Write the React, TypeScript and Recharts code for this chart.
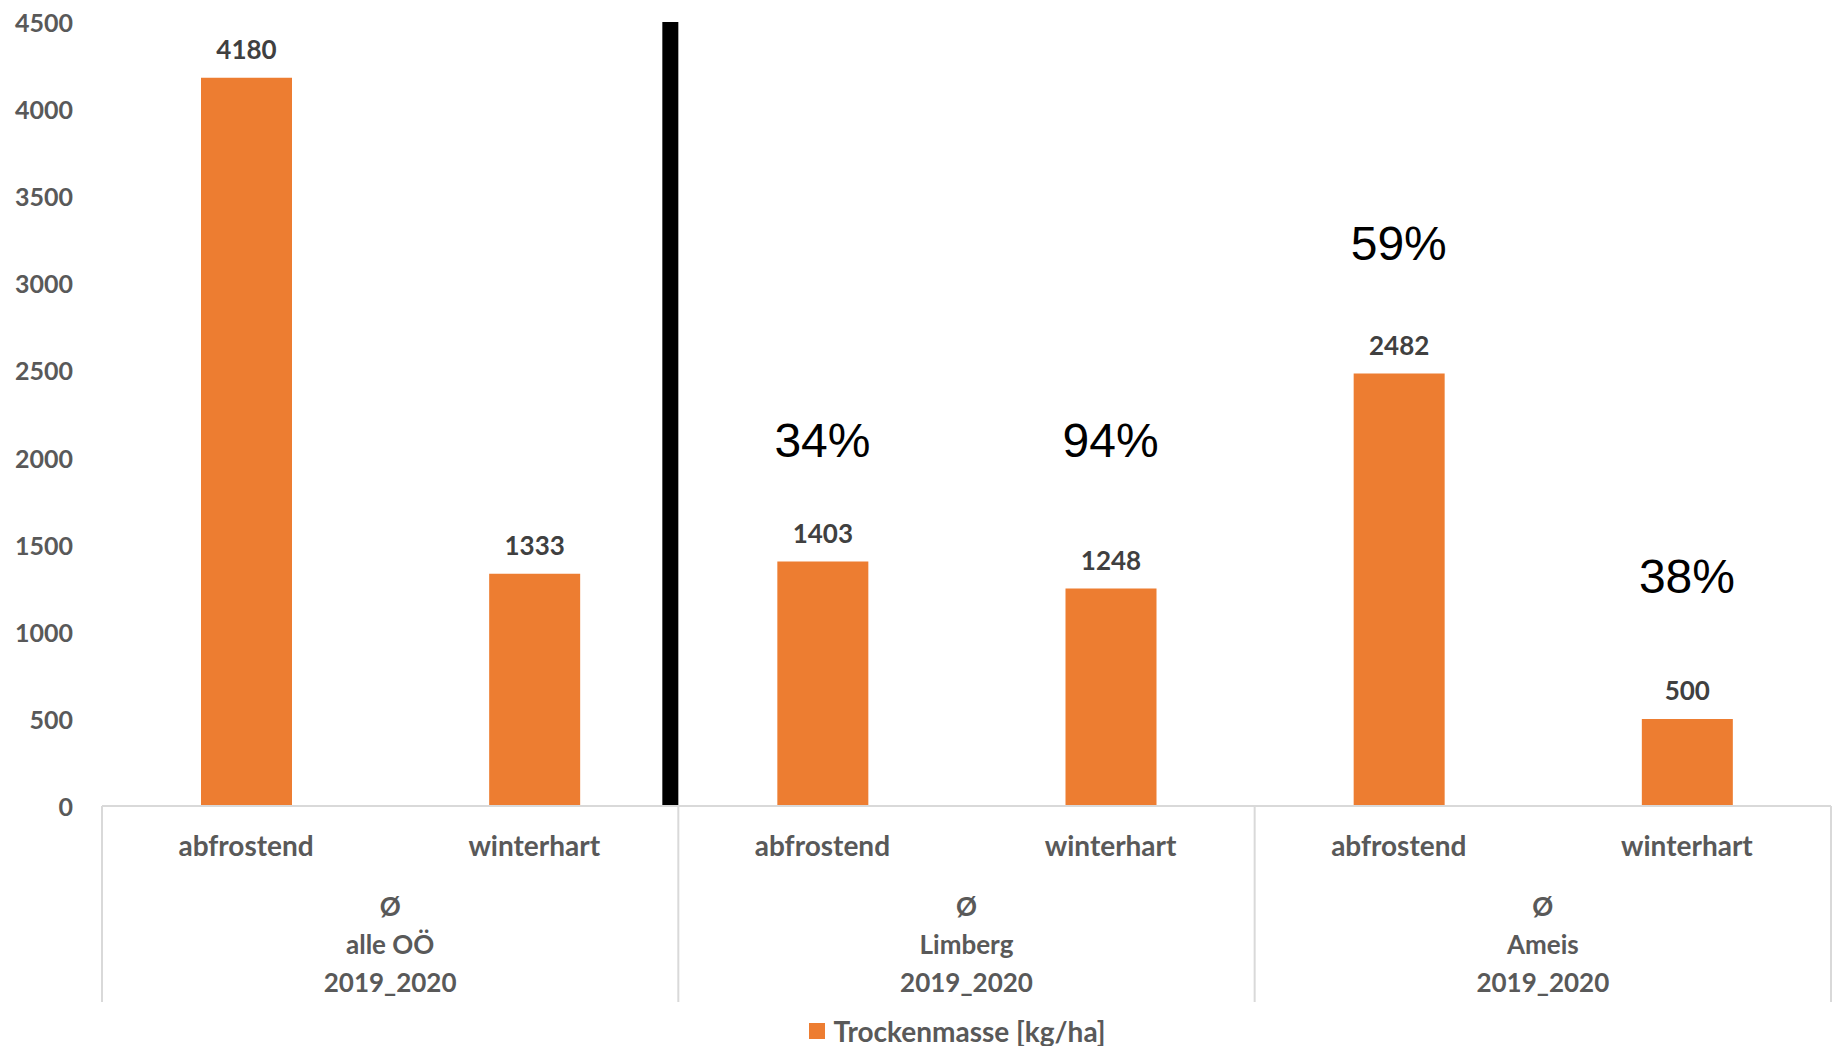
import { ComposedChart, Bar, Line, XAxis, YAxis, LabelList, ReferenceLine, Legend } from 'recharts';

const groups = ['alle OÖ', 'Limberg', 'Ameis'];
const varieties = ['abfrostend', 'winterhart'];
const trockenmasse = [4180, 1333, 1403, 1248, 2482, 500];
const percentText = ['', '', '34%', '94%', '59%', '38%'];
// height (kg/ha scale) where the percentage notes sit
const percentAt = [null, null, 2100, 2100, 3230, 1320];
const yTicks = [0, 500, 1000, 1500, 2000, 2500, 3000, 3500, 4000, 4500];
const groupPrefix = 'Ø';
const season = '2019_2020';

const data = trockenmasse.map((v, i) => ({
  key: `${groups[Math.floor(i / 2)]}|${varieties[i % 2]}`,
  variety: varieties[i % 2],
  group: groups[Math.floor(i / 2)],
  tm: v,
  pctAt: percentAt[i],
}));

const W = 1833;
const H = 1046;
const YAXIS_W = 102;
const RIGHT = 2;
const TOP = 22;
const LEGEND_H = 22;
const XAXIS_H = 218;
const AXIS_Y = H - LEGEND_H - XAXIS_H;
const BAND = (W - YAXIS_W - RIGHT) / data.length;

const FONT = 'Lato, "Open Sans", sans-serif';
const GRAY = '#595959';
const ORANGE = '#ED7D31';

function YTick({ y, payload }: any) {
  return (
    <text x={YAXIS_W - 29} y={y} textAnchor="end" dominantBaseline="central"
      fontFamily={FONT} fontWeight={700} fontSize={25} fill={GRAY}>
      {payload.value}
    </text>
  );
}

function XTick({ x, index }: any) {
  const row = data[index];
  const isGroupStart = index % 2 === 0;
  const lineStyle = { stroke: '#d9d9d9', strokeWidth: 2 };
  return (
    <g>
      <text x={x} y={AXIS_Y + 39} textAnchor="middle" dominantBaseline="central"
        fontFamily={FONT} fontWeight={700} fontSize={28} fill={GRAY}>
        {row.variety}
      </text>
      {isGroupStart && (
        <g>
          <line x1={x - BAND / 2} x2={x - BAND / 2} y1={AXIS_Y} y2={1002} {...lineStyle} />
          {[groupPrefix, row.group, season].map((t, k) => (
            <text key={k} x={x + BAND / 2} y={AXIS_Y + 100 + k * 38} textAnchor="middle"
              dominantBaseline="central" fontFamily={FONT} fontWeight={700} fontSize={26} fill={GRAY}>
              {t}
            </text>
          ))}
        </g>
      )}
      {index === data.length - 1 && (
        <line x1={x + BAND / 2} x2={x + BAND / 2} y1={AXIS_Y} y2={1002} {...lineStyle} />
      )}
    </g>
  );
}

function PctLabel({ x, y, value, index }: any) {
  if (value == null || !percentText[index]) return null;
  return (
    <text x={x} y={y} textAnchor="middle" dominantBaseline="central"
      fontFamily='"Liberation Sans", Arial, sans-serif' fontSize={48} fill="#000">
      {percentText[index]}
    </text>
  );
}

function Divider({ x1, y1, y2 }: any) {
  const top = Math.min(y1, y2);
  const bottom = Math.max(y1, y2);
  return <rect x={x1 - 16} y={top} width={16} height={bottom - top + 1} fill="#000" />;
}

function LegendBox() {
  return (
    <div style={{ display: 'flex', justifyContent: 'center', alignItems: 'center', paddingLeft: 84, height: LEGEND_H }}>
      <span style={{ width: 16, height: 16, background: ORANGE, marginRight: 8, display: 'inline-block' }} />
      <span style={{ fontFamily: FONT, fontWeight: 700, fontSize: 28, color: GRAY }}>Trockenmasse [kg/ha]</span>
    </div>
  );
}

export default function App() {
  return (
    <div style={{ position: 'absolute', left: 0, top: 0, width: W, height: H, background: '#fff' }}>
      <ComposedChart width={W} height={H} data={data} margin={{ top: TOP, right: RIGHT, left: 0, bottom: 0 }}>
        <XAxis
          dataKey="key"
          height={XAXIS_H}
          axisLine={{ stroke: '#d9d9d9', strokeWidth: 2 }}
          tickLine={false}
          interval={0}
          tick={<XTick />}
        />
        <YAxis
          width={YAXIS_W}
          domain={[0, 4500]}
          ticks={yTicks}
          axisLine={false}
          tickLine={false}
          tick={<YTick />}
        />
        <ReferenceLine x={data[1].key} position="end" ifOverflow="visible" shape={<Divider />} />
        <Bar dataKey="tm" fill={ORANGE} barSize={91} isAnimationActive={false}>
          <LabelList dataKey="tm" position="top" offset={19}
            style={{ fontFamily: FONT, fontWeight: 700, fontSize: 26, fill: '#404040' }} />
        </Bar>
        <Line dataKey="pctAt" stroke="none" dot={false} activeDot={false} legendType="none" isAnimationActive={false}>
          <LabelList dataKey="pctAt" content={<PctLabel />} />
        </Line>
        <Legend verticalAlign="bottom" height={LEGEND_H} wrapperStyle={{ bottom: 4 }} content={<LegendBox />} />
      </ComposedChart>
    </div>
  );
}
